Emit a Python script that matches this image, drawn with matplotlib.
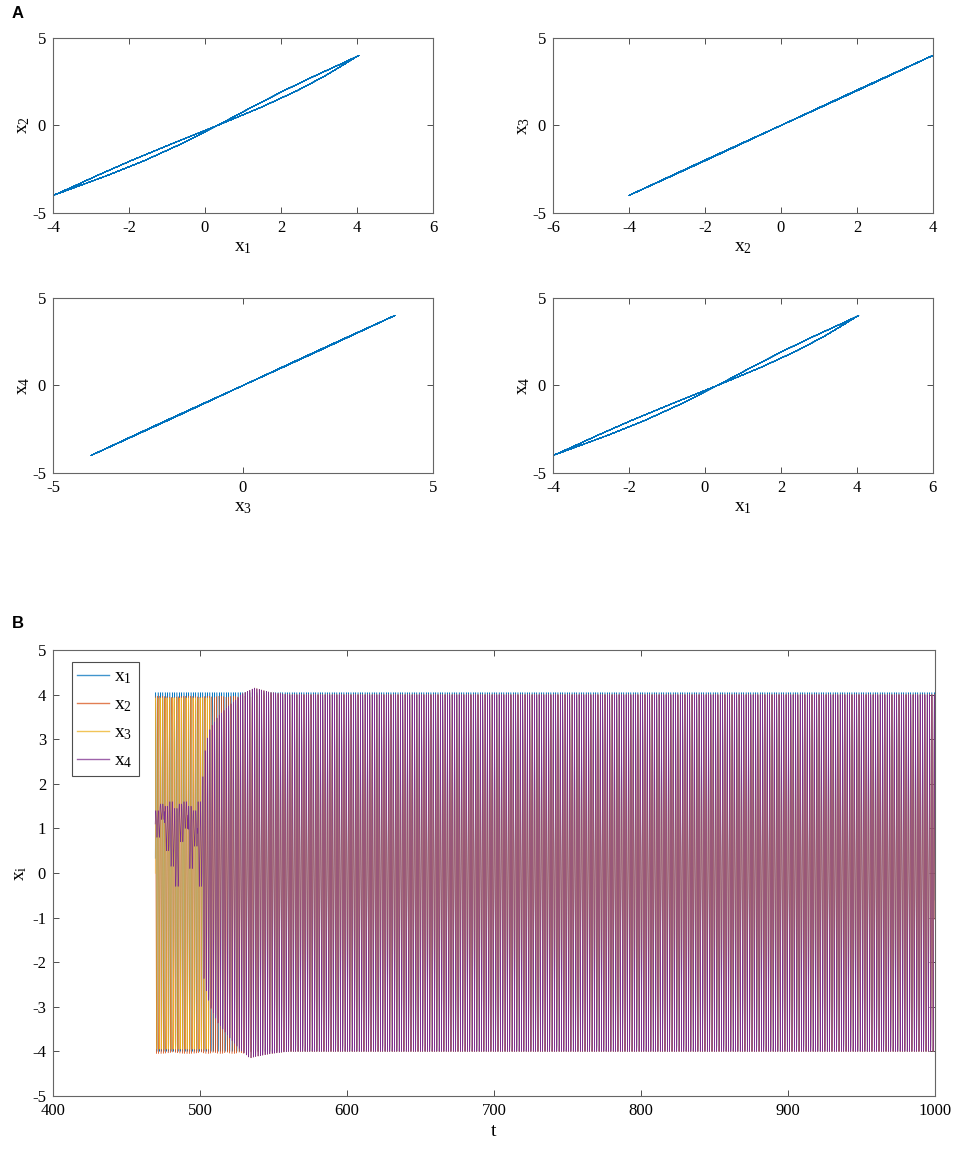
import numpy as np
import matplotlib
matplotlib.use('Agg')
import matplotlib.pyplot as plt

plt.rcParams['font.family'] = ['Liberation Serif', 'DejaVu Serif']
plt.rcParams['mathtext.fontset'] = 'custom'
plt.rcParams['mathtext.rm'] = 'Liberation Serif'
plt.rcParams['mathtext.it'] = 'Liberation Serif'
plt.rcParams['axes.unicode_minus'] = False

# ---- values ----
t_start = 469.5
t_end = 1000.0
period = 1.6           # length of one oscillation (t units)
amp = 4.0              # steady amplitude of x2, x3, x4
x1_bend = 0.019        # x1 vs x2 curvature (x2 ~ -0.3 when x1 = 0)
x1_loop = 0.27         # width of the thin x1/x2 loop
x1_tilt = 0.006        # x1 peaks at 4.05, bottoms at -4.0
x3_loop = 0.03

# x2: bounds and phase lag before it locks in
x2_t = [469.5, 530, 545, 1000]
x2_hi = [3.97, 3.97, 4.0, 4.0]
x2_lo = [-4.05, -4.05, -4.0, -4.0]
x2_lag_t = [469.5, 500, 540, 1000]
x2_lag = [1.6, 1.2, 0.0, 0.0]

# x3: full swing, then follows x4
x3_hi_early = 3.93
x3_lo_early = -3.95
x3_join = 507

# x4: small wobble (one value per two cycles) until ~501, then growing envelope
x4_wobble_hi = [1.40, 1.55, 1.50, 1.60, 1.45, 1.55, 1.60, 1.50, 1.40, 1.60]
x4_wobble_lo = [0.80, 1.20, 0.50, 0.15, -0.30, 0.70, 1.00, 0.10, 0.60, -0.30]
x4_wobble_end = 501.5
x4_env_t = [501.5, 502, 504, 507, 512, 519, 525, 528, 534, 537, 548, 560, 1000]
x4_env_hi = [1.60, 2.28, 2.90, 3.25, 3.50, 3.74, 3.90, 4.01, 4.10, 4.15, 4.05, 4.0, 4.0]
x4_env_lo = [0.00, -2.24, -2.60, -3.00, -3.35, -3.65, -3.88, -3.98, -4.15, -4.12, -4.05, -4.0, -4.0]

colors = ['#0072BD', '#D95319', '#EDB120', '#7E2F8E']
labels = ['x$_1$', 'x$_2$', 'x$_3$', 'x$_4$']
widths = [0.35, 0.3, 0.35, 0.45]

# ---- build the series ----
t = np.arange(t_start, t_end, period / 24)
theta = 2 * np.pi * (t - t_start) / period

cyc = np.clip(((t - t_start) // (2 * period)).astype(int), 0, len(x4_wobble_hi) - 1)
hi4 = np.where(t < x4_wobble_end, np.array(x4_wobble_hi)[cyc], np.interp(t, x4_env_t, x4_env_hi))
lo4 = np.where(t < x4_wobble_end, np.array(x4_wobble_lo)[cyc], np.interp(t, x4_env_t, x4_env_lo))
x4 = (hi4 + lo4) / 2 + (hi4 - lo4) / 2 * np.sin(theta)

s = amp * np.sin(theta)
x1 = (s + x1_bend * (amp**2 - s**2) + x1_loop * np.sin(2 * theta) * np.cos(theta)**2
      + x1_tilt * (s + amp))

lag = np.interp(t, x2_lag_t, x2_lag)
hi2 = np.interp(t, x2_t, x2_hi)
lo2 = np.interp(t, x2_t, x2_lo)
x2 = (hi2 + lo2) / 2 + (hi2 - lo2) / 2 * np.sin(theta + lag)

x3_early = (x3_hi_early + x3_lo_early) / 2 + (x3_hi_early - x3_lo_early) / 2 * np.sin(theta)
x3 = np.where(t < x3_join, x3_early, x4 + x3_loop * np.sin(2 * theta) * np.cos(theta)**2)

series = [x1, x2, x3, x4]

# ---- figure ----
fig = plt.figure(figsize=(9.57, 11.53), dpi=100)

def style(ax):
    ax.tick_params(direction='in', top=True, right=True, labelsize=12, length=4,
                   color='0.3', width=0.7, pad=5)
    for sp in ax.spines.values():
        sp.set_color('0.4')
        sp.set_linewidth(0.8)

steady = t >= 950
pairs = [(0, 1, [-4, 6], [-5, 5], 2), (1, 2, [-6, 4], [-5, 5], 2),
         (2, 3, [-5, 5], [-5, 5], 5), (0, 3, [-4, 6], [-5, 5], 2)]
pos = [(0.0554, 0.8153), (0.5778, 0.8153), (0.0554, 0.5898), (0.5778, 0.5898)]
for (i, j, xl, yl, step), (l, b) in zip(pairs, pos):
    ax = fig.add_axes([l, b, 0.397, 0.1518])
    ax.plot(series[i][steady], series[j][steady], color=colors[0], lw=0.5)
    ax.set_xlim(xl)
    ax.set_ylim(yl)
    ax.set_xticks(np.arange(xl[0], xl[1] + 1, step))
    ax.set_yticks([-5, 0, 5])
    ax.set_xlabel(labels[i], fontsize=14, labelpad=2)
    ax.set_ylabel(labels[j], fontsize=14, labelpad=0)
    style(ax)

axb = fig.add_axes([0.0554, 0.0494, 0.9216, 0.3868])
for k in range(4):
    axb.plot(t, series[k], color=colors[k], lw=widths[k], label=labels[k])
axb.set_xlim(400, 1000)
axb.set_ylim(-5, 5)
axb.set_xticks(np.arange(400, 1001, 100))
axb.set_yticks(np.arange(-5, 6, 1))
axb.set_xlabel('t', fontsize=14, labelpad=3)
axb.set_ylabel('x$_i$', fontsize=14, labelpad=2)
style(axb)
leg = axb.legend(loc='upper left', fontsize=14, handlelength=1.6, borderaxespad=0.5,
                 bbox_to_anchor=(0.01, 0.995), fancybox=False, edgecolor='0.3',
                 framealpha=1, labelspacing=0.5, borderpad=0.3, handletextpad=0.3)
for ln in leg.get_lines():
    ln.set_linewidth(1.0)
    ln.set_alpha(0.75)
leg.get_frame().set_linewidth(0.8)

fig.text(12 / 957, 1 - 18 / 1153, 'A', fontsize=12, fontweight='bold', family='Liberation Sans')
fig.text(12 / 957, 1 - 628 / 1153, 'B', fontsize=12, fontweight='bold', family='Liberation Sans')

fig.savefig('out.png', dpi=100)
